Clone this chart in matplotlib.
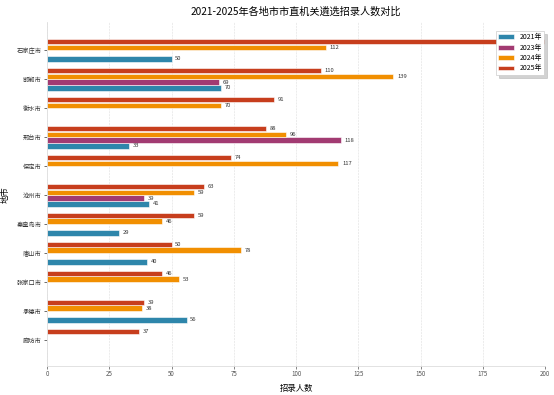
import numpy as np
import matplotlib
matplotlib.use('Agg')
import matplotlib.pyplot as plt

plt.rcParams['font.family'] = ['Noto Sans CJK SC', 'DejaVu Sans']
plt.rcParams['axes.unicode_minus'] = False

cities = ['石家庄市', '邯郸市', '衡水市', '邢台市', '保定市', '沧州市',
          '秦皇岛市', '唐山市', '张家口市', '承德市', '廊坊市']
nan = np.nan
y2021 = [50, 70, nan, 33, nan, 41, 29, 40, nan, 56, nan]
y2023 = [nan, 69, nan, 118, nan, 39, nan, nan, nan, nan, nan]
y2024 = [112, 139, 70, 96, 117, 59, 46, 78, 53, 38, nan]
y2025 = [215, 110, 91, 88, 74, 63, 59, 50, 46, 39, 37]

series = [('2021年', y2021, '#2E86AB'),
          ('2023年', y2023, '#A23B72'),
          ('2024年', y2024, '#F18F01'),
          ('2025年', y2025, '#C73E1D')]

xmax = 200

fig = plt.figure(figsize=(5.54, 3.95), dpi=100)
ax = fig.add_axes([0.085, 0.073, 0.899, 0.871])

pos = np.arange(len(cities))
h = 0.19
offsets = [0.3, 0.1, -0.1, -0.3]
for (name, vals, col), off in zip(series, offsets):
    vals = np.array(vals, dtype=float)
    bars = ax.barh(pos + off, np.nan_to_num(vals), height=h, color=col,
                   edgecolor='white', linewidth=0.4, label=name, zorder=2)
    for b, v in zip(bars, vals):
        # labels beyond the axis range fall outside the figure
        if np.isnan(v) or v > xmax:
            continue
        ax.text(v + 1.5, b.get_y() + b.get_height() / 2, f'{int(v)}',
                va='center', ha='left', fontsize=4.2, color='#333333')

ax.set_yticks(pos)
ax.set_yticklabels(cities, fontsize=4.5)
ax.set_ylim(10.9, -0.97)
ax.set_xlim(0, xmax)
ax.set_xticks([0, 25, 50, 75, 100, 125, 150, 175, 200])
ax.tick_params(axis='x', labelsize=4.5, colors='#555555', length=2, width=0.5, pad=1)
ax.tick_params(axis='y', colors='#333333', length=2, width=0.5, pad=2)
ax.grid(axis='x', linestyle='--', linewidth=0.4, color='#dddddd', zorder=0)
for s in ['top', 'right']:
    ax.spines[s].set_visible(False)
for s in ['left', 'bottom']:
    ax.spines[s].set_color('#dddddd')
    ax.spines[s].set_linewidth(0.6)

ax.set_xlabel('招录人数', fontsize=6, labelpad=4)
ax.set_ylabel('地市', fontsize=6, labelpad=5)
ax.set_title('2021-2025年各地市市直机关遴选招录人数对比', fontsize=7.3, pad=5)

leg = ax.legend(loc='upper right', fontsize=5, frameon=True,
                shadow={'alpha': 0.25}, fancybox=False, borderpad=0.35,
                labelspacing=0.35, handlelength=2.2,
                bbox_to_anchor=(1.005, 0.985))
leg.get_frame().set_linewidth(0.5)

fig.savefig('out.png', dpi=100)
